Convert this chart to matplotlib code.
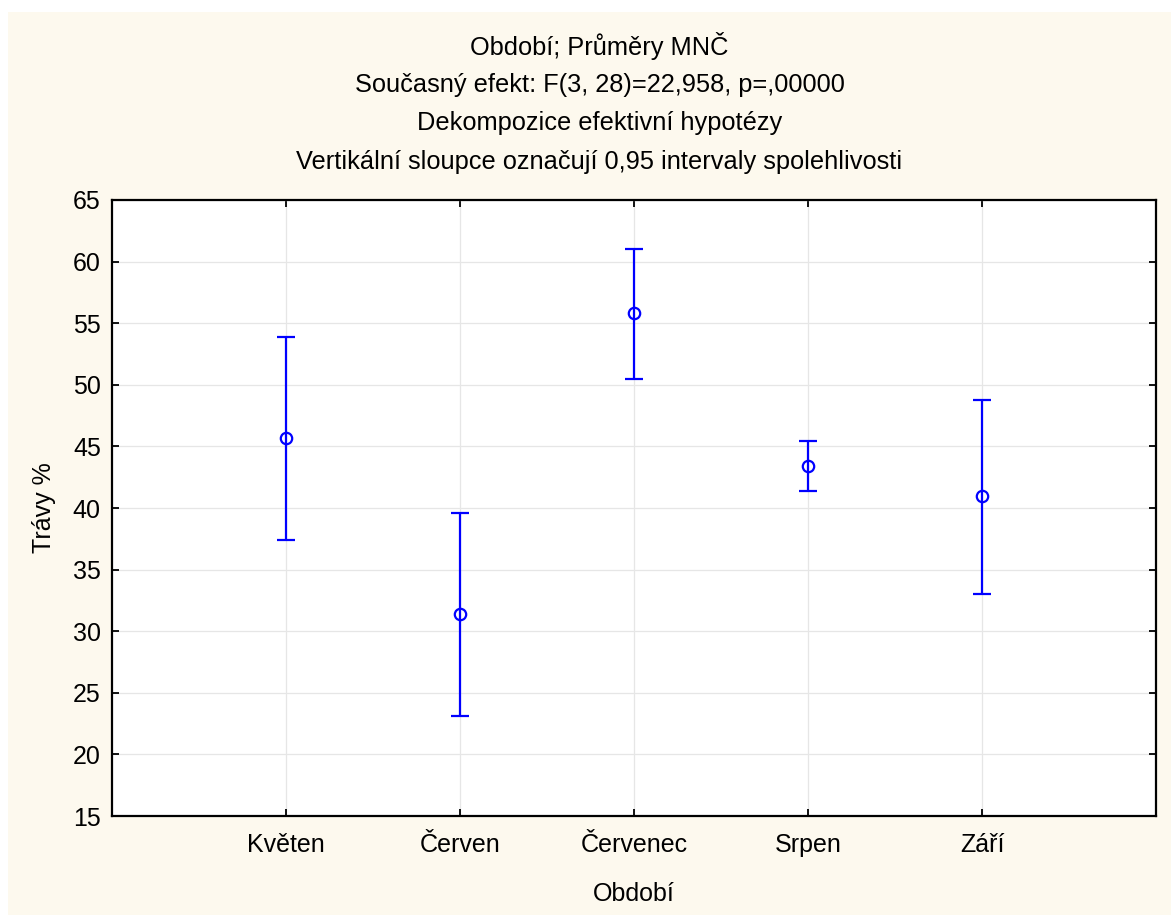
import matplotlib
matplotlib.use("Agg")
import matplotlib.pyplot as plt
from matplotlib.patches import Rectangle

# LS means of grass cover per period with 0.95 confidence limits
periods = ["Květen", "Červen", "Červenec", "Srpen", "Září"]
means = [45.7, 31.4, 55.8, 43.4, 41.0]
lower = [37.4, 23.1, 50.5, 41.4, 33.0]
upper = [53.9, 39.6, 61.0, 45.4, 48.8]

title_lines = [
    "Období; Průměry MNČ",
    "Současný efekt: F(3, 28)=22,958, p=,00000",
    "Dekompozice efektivní hypotézy",
    "Vertikální sloupce označují 0,95 intervaly spolehlivosti",
]

plt.rcParams["font.family"] = ["Liberation Sans", "DejaVu Sans"]

BG = "#fdf9ee"
BLUE = "#0000ff"

fig = plt.figure(figsize=(11.71, 9.17), dpi=100, facecolor="white")
fig.patches.append(Rectangle((0.0068, 0.0022), 0.9932, 0.9847,
                             transform=fig.transFigure, facecolor=BG,
                             edgecolor="none", zorder=-10))

ax = fig.add_axes([0.0956, 0.1101, 0.8916, 0.6718])
ax.set_facecolor("white")

xs = list(range(1, len(periods) + 1))
err_lo = [m - l for m, l in zip(means, lower)]
err_hi = [u - m for m, u in zip(means, upper)]
ax.errorbar(xs, means, yerr=[err_lo, err_hi], fmt="o", color=BLUE,
            ecolor=BLUE, elinewidth=1.6, capsize=6.2, capthick=1.6,
            markersize=8.2, markerfacecolor="none", markeredgewidth=1.6,
            zorder=3)

ax.set_xlim(0, 6)
ax.set_ylim(15, 65)
ax.set_xticks(xs)
ax.set_xticklabels(periods)
ax.set_yticks(range(15, 66, 5))

ax.grid(True, color="#e6e6e6", linewidth=0.9, zorder=0)
ax.set_axisbelow(True)

for sp in ax.spines.values():
    sp.set_linewidth(1.6)
    sp.set_color("black")

ax.tick_params(axis="both", direction="in", length=5, width=1.3,
               labelsize=18, top=True, right=True, colors="black")
ax.tick_params(axis="y", pad=8)
ax.tick_params(axis="x", pad=12)

ax.set_xlabel("Období", fontsize=18, labelpad=18)
ax.set_ylabel("Trávy %", fontsize=18, labelpad=12)

# four-line header above the plot
cx = 0.512
for i, line in enumerate(title_lines):
    y = 1 - (46 + i * 38.7) / 917
    fig.text(cx, y, line, ha="center", va="center", fontsize=18.3)

fig.savefig("out.png", dpi=100, facecolor=fig.get_facecolor())
